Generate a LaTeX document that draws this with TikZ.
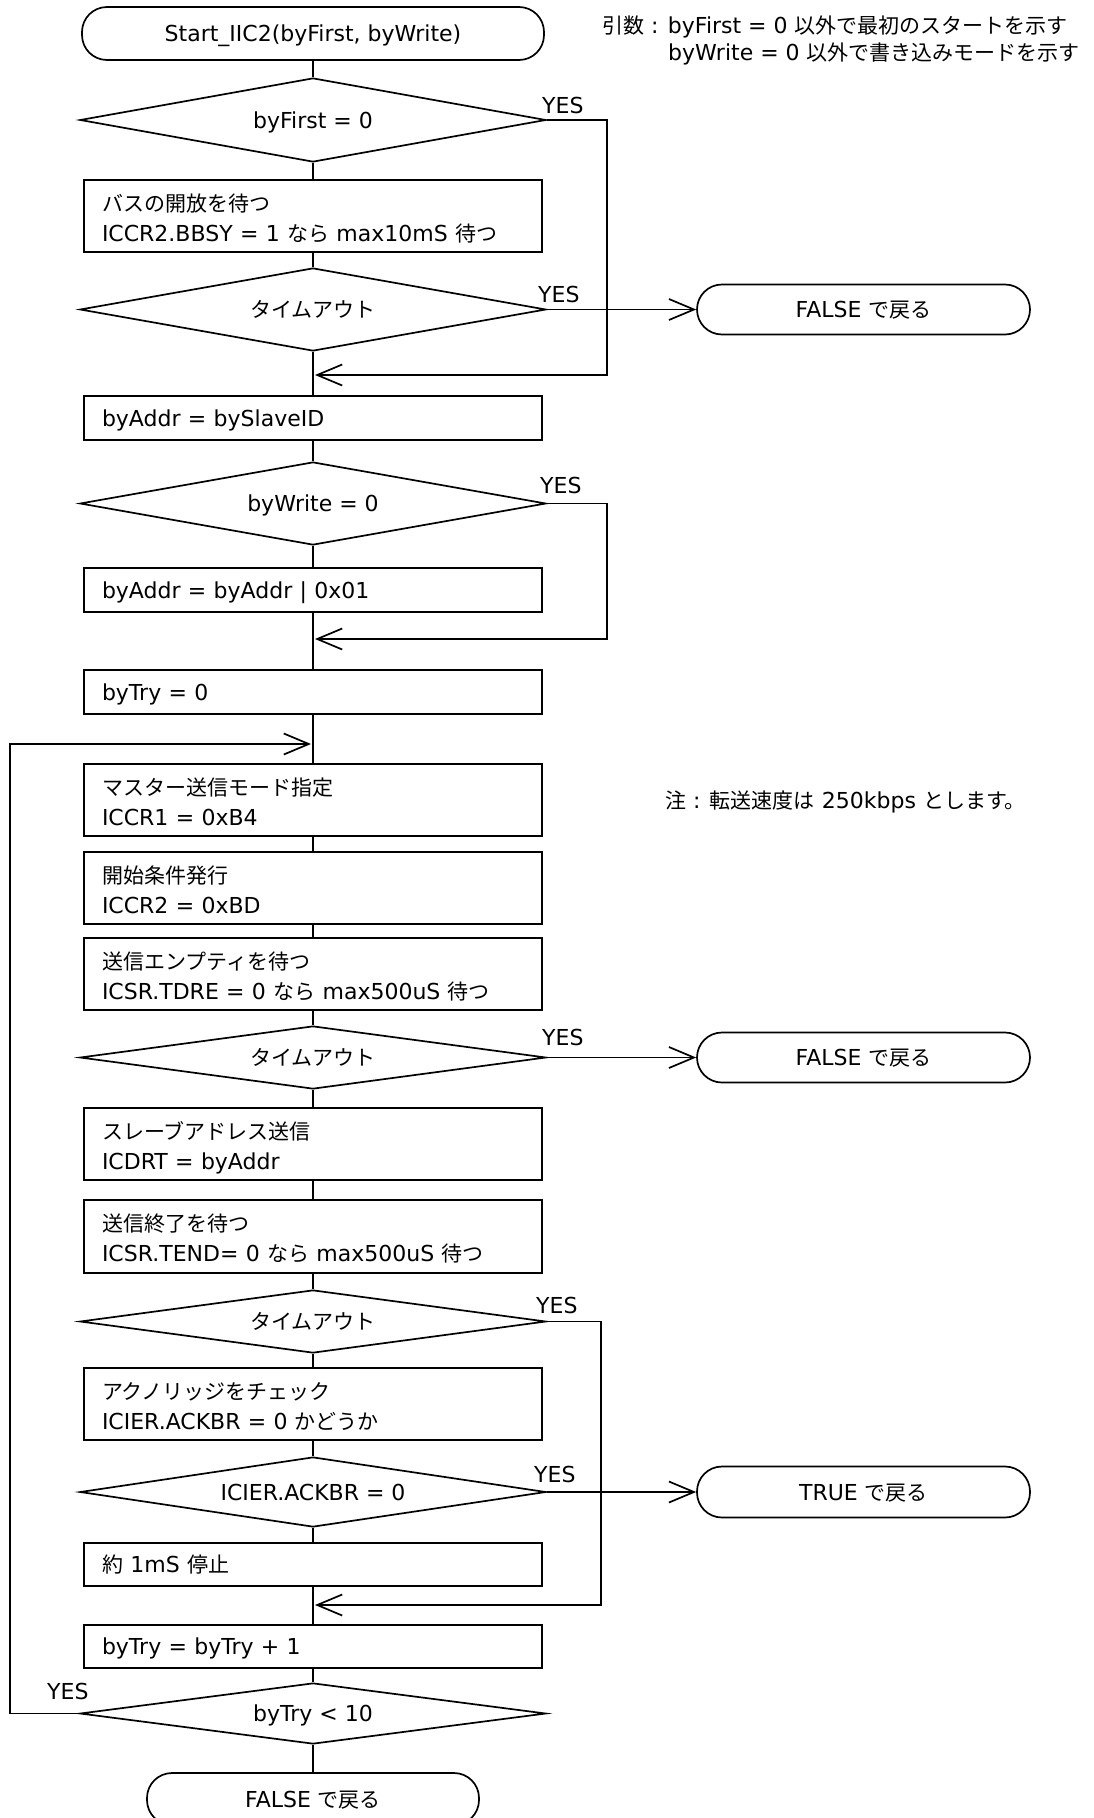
\documentclass[tikz,border=0pt]{standalone}
\usepackage{fontspec}
\setmainfont{DejaVu Sans}
\newfontfamily\jpf{Noto Sans CJK JP}
\newcommand\J[1]{{\jpf\fontsize{21}{30}\selectfont #1}}
\newcommand\TopS{\rule{0pt}{26pt}}
\newcommand\BotS{\rule[-6pt]{0pt}{6pt}}
\usetikzlibrary{shapes.geometric,arrows.meta}
\setlength{\parindent}{0pt}
\begin{document}
\begin{tikzpicture}[x=1pt,y=-1pt,
  every node/.style={font=\fontsize{22}{30}\selectfont},
  ln/.style={line width=1.7pt},
  proc/.style={draw, line width=1.7pt, rectangle, minimum width=458pt, inner xsep=18pt, inner ysep=0pt, text width=422pt, align=left},
  one/.style={proc, minimum height=44pt, text height=16pt, text depth=0pt},
  two/.style={proc, minimum height=72pt},
  dec/.style={draw, line width=1.7pt, diamond, aspect=6, inner sep=0pt, minimum width=466pt, text height=16pt, text depth=0pt},
  term/.style={draw, line width=1.7pt, rectangle, rounded corners=25pt, inner sep=0pt, text height=16pt, text depth=0pt, minimum height=50pt},
  lbl/.style={inner sep=0pt, anchor=base west},
  arr/.style={line width=1.7pt, -{Straight Barb[length=25pt,width=21pt]}},
]
\useasboundingbox (0,0) rectangle (1093,1818);
\fill[white] (0,0) rectangle (1093,1818);

% main column
\node[term, minimum width=462pt, minimum height=53pt] (start) at (313,33.5) {Start\_IIC2(byFirst, byWrite)};
\node[dec, minimum height=84pt] (d1) at (313,120) {byFirst = 0};
\node[two] (b1) at (313,216) {\TopS\J{バスの開放を待つ}\\ICCR2.BBSY = 1 \J{なら} max10mS \J{待つ}\BotS};
\node[dec, minimum height=83pt] (d2) at (313,309.5) {\J{タイムアウト}};
\node[one] (a1) at (313,418) {byAddr = bySlaveID};
\node[dec, minimum height=83pt] (d3) at (313,503.5) {byWrite = 0};
\node[one] (a2) at (313,590) {byAddr = byAddr | 0x01};
\node[one] (t0) at (313,692) {byTry = 0};
\node[two] (m1) at (313,800) {\TopS\J{マスター送信モード指定}\\ICCR1 = 0xB4\BotS};
\node[two] (m2) at (313,888) {\TopS\J{開始条件発行}\\ICCR2 = 0xBD\BotS};
\node[two] (m3) at (313,974) {\TopS\J{送信エンプティを待つ}\\ICSR.TDRE = 0 \J{なら} max500uS \J{待つ}\BotS};
\node[dec, minimum height=63pt] (d4) at (313,1057.5) {\J{タイムアウト}};
\node[two] (m4) at (313,1144) {\TopS\J{スレーブアドレス送信}\\ICDRT = byAddr\BotS};
\node[two, minimum height=73pt] (m5) at (313,1236.5) {\TopS\J{送信終了を待つ}\\ICSR.TEND= 0 \J{なら} max500uS \J{待つ}\BotS};
\node[dec, minimum height=63pt] (d5) at (313,1321.5) {\J{タイムアウト}};
\node[two] (m6) at (313,1404) {\TopS\J{アクノリッジをチェック}\\ICIER.ACKBR = 0 \J{かどうか}\BotS};
\node[dec, minimum height=70pt] (d6) at (313,1492) {ICIER.ACKBR = 0};
\node[one, minimum height=43pt] (m7) at (313,1564.5) {\J{約} 1mS \J{停止}};
\node[one, minimum height=43pt] (m8) at (313,1646.5) {byTry = byTry + 1};
\node[dec, minimum height=61pt] (d7) at (313,1713.5) {byTry < 10};
\node[term, minimum width=332pt, minimum height=52pt] (end) at (313,1799) {FALSE \J{で戻る}};

% side terminals
\node[term, minimum width=333pt] (f1) at (863.5,309.5) {FALSE \J{で戻る}};
\node[term, minimum width=333pt] (f2) at (863.5,1057.5) {FALSE \J{で戻る}};
\node[term, minimum width=333pt, minimum height=51pt] (tr) at (863.5,1492) {TRUE \J{で戻る}};

% notes
\node[lbl] (n1) at (602,33) {\J{引数} : byFirst = 0 \J{以外で最初のスタートを示す}};
\node[lbl] (n2) at (668,60) {byWrite = 0 \J{以外で書き込みモードを示す}};
\node[lbl] (n3) at (665,808) {\J{注} : \J{転送速度は} 250kbps \J{とします。}};

% YES labels
\node[lbl] (y1) at (542,113) {YES};
\node[lbl] (y2) at (538,302) {YES};
\node[lbl] (y3) at (540,493) {YES};
\node[lbl] (y4) at (542,1045) {YES};
\node[lbl] (y5) at (536,1313) {YES};
\node[lbl] (y6) at (534,1482) {YES};
\node[lbl] (y7) at (47,1699) {YES};

% main flow line
\draw[ln] (start) -- (d1) -- (b1) -- (d2) -- (a1) -- (d3) -- (a2) -- (t0) -- (m1) -- (m2) -- (m3) -- (d4) -- (m4) -- (m5) -- (d5) -- (m6) -- (d6) -- (m7) -- (m8) -- (d7) -- (end);

% junction coordinates
\coordinate (c1) at (607,375);  \coordinate (j1) at (315,375);
\coordinate (c2) at (607,639);  \coordinate (j2) at (315,639);
\coordinate (c3) at (601,1605); \coordinate (j3) at (315,1605);
\coordinate (c4) at (10,744);   \coordinate (j4) at (311,744);

% branches
\draw[arr] (d1.east) -| (c1) -- (j1);
\draw[arr] (d2.east) -- (d2.east -| f1.west);
\draw[arr] (d3.east) -| (c2) -- (j2);
\draw[arr] (d4.east) -- (d4.east -| f2.west);
\draw[arr] (d5.east) -| (c3) -- (j3);
\draw[arr] (d6.east) -- (d6.east -| tr.west);
\draw[arr] (d7.west) -| (c4) -- (j4);
\end{tikzpicture}
\end{document}
